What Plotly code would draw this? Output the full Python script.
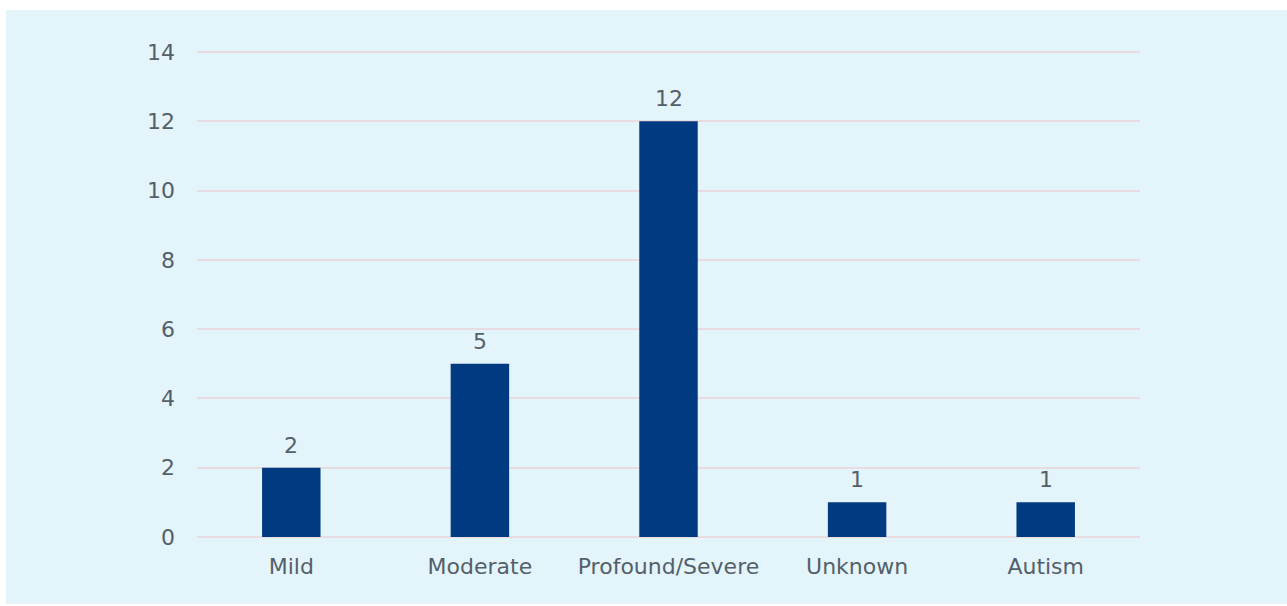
import plotly.graph_objects as go

categories = ["Mild", "Moderate", "Profound/Severe", "Unknown", "Autism"]
counts = [2, 5, 12, 1, 1]
y_ticks = [0, 2, 4, 6, 8, 10, 12, 14]

W, H = 1287, 606
L, R, T, B = 197, 147, 51, 69
pw, ph = W - L - R, H - T - B

def px_x(p):
    return (p - L) / pw

def px_y(p):
    return (H - B - p) / ph

BG = "#e3f4fa"
BAR = "#003a80"
GRID = "#e8dce2"
TXT = "#555f6a"
FONT = "DejaVu Sans, sans-serif"
FS = 22

fig = go.Figure()
fig.add_trace(go.Bar(
    x=categories, y=counts,
    marker=dict(color=BAR, line=dict(width=0)),
    width=0.31,
    hoverinfo="skip",
))

for c, v in zip(categories, counts):
    fig.add_annotation(x=c, y=v, text=str(v), showarrow=False,
                       yanchor="bottom", yshift=8,
                       font=dict(family=FONT, size=FS, color=TXT))

fig.add_shape(type="rect", xref="paper", yref="paper",
              x0=px_x(6), x1=px_x(W + 5), y0=px_y(604), y1=px_y(10),
              fillcolor=BG, line=dict(width=0), layer="below")

fig.update_layout(
    width=W, height=H,
    margin=dict(l=L, r=R, t=T, b=B),
    paper_bgcolor="white",
    plot_bgcolor="rgba(0,0,0,0)",
    showlegend=False,
    font=dict(family=FONT, size=FS, color=TXT),
    bargap=0.69,
)
fig.update_xaxes(showgrid=False, showline=False, zeroline=False, ticks="",
                 tickfont=dict(size=FS, color=TXT), ticklabelstandoff=14)
fig.update_yaxes(range=[0, 14.03], tickvals=y_ticks, showgrid=True,
                 gridcolor=GRID, gridwidth=2, zeroline=True, zerolinecolor=GRID,
                 zerolinewidth=2, showline=False, ticks="",
                 ticklabelstandoff=21, tickfont=dict(size=FS, color=TXT))

fig.write_html("out.html")
